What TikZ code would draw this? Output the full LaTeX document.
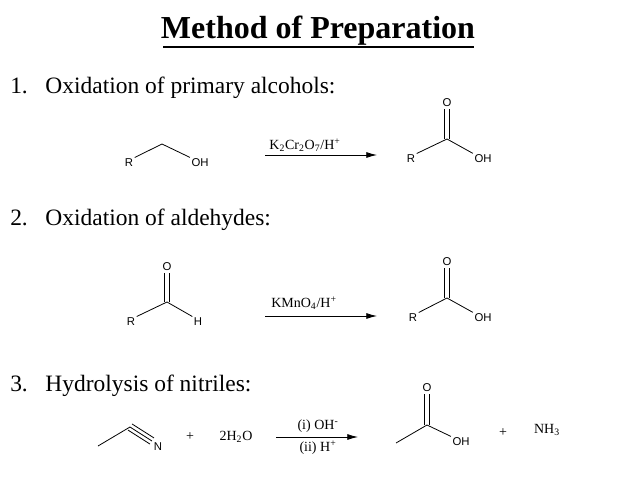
\documentclass[tikz,border=0pt]{standalone}
\usepackage{fontspec}
\setmainfont{Liberation Serif}
\newfontfamily\lab{Liberation Sans}
\usetikzlibrary{arrows.meta}
\begin{document}
\begin{tikzpicture}[x=0.75pt,y=-0.75pt,
  atom/.style={font=\lab\fontsize{8.5}{9}\selectfont,inner sep=1pt},
  rg/.style={font=\fontsize{10.5}{11}\selectfont,inner sep=1pt},
  head/.style={font=\fontsize{17.6}{20}\selectfont,anchor=west,inner sep=0pt},
  bond/.style={line width=0.6pt},
  rxn/.style={line width=0.6pt,-{Latex[length=8pt,width=4.5pt]}}]
\useasboundingbox (0,0) rectangle (638,478);
\node[font=\bfseries\fontsize{24}{26}\selectfont,inner sep=0pt] (title) at (318,31) {Method of Preparation};
\draw[line width=1pt] (163,47) -- (474,47);
\node[head] (h1) at (10,88) {1.\hspace{0.75em}Oxidation of primary alcohols:};
\node[head] (h2) at (10,220) {2.\hspace{0.75em}Oxidation of aldehydes:};
\node[head] (h3) at (10,386) {3.\hspace{0.75em}Hydrolysis of nitriles:};
% reaction 1
\node[atom] (r1) at (129,163) {R};
\coordinate (c1) at (162,144);
\node[atom] (oh1) at (200,163) {OH};
\draw[bond] (r1.north east) -- (c1) -- (oh1.north west);
\coordinate (a1s) at (265,155); \coordinate (a1e) at (377,155);
\draw[rxn] (a1s) -- (a1e);
\node[rg] (k1) at (305,145) {K\textsubscript{2}Cr\textsubscript{2}O\textsubscript{7}/H\textsuperscript{+}};
\node[atom] (r2) at (411,159) {R};
\node[atom] (o2) at (447,103) {O};
\coordinate (c2) at (447,139);
\node[atom] (oh2) at (483,159) {OH};
\draw[bond] (r2.north east) -- (c2) -- (oh2.north west);
\draw[bond] ([xshift=-1.6pt]c2) -- ([xshift=-1.6pt]o2.south);
\draw[bond] ([xshift=1.6pt]c2) -- ([xshift=1.6pt]o2.south);
% reaction 2
\node[atom] (r3) at (131,322) {R};
\node[atom] (o3) at (167,267) {O};
\coordinate (c3) at (167,302);
\node[atom] (h4) at (198,322) {H};
\draw[bond] (r3.north east) -- (c3) -- (h4.north west);
\draw[bond] ([xshift=-1.6pt]c3) -- ([xshift=-1.6pt]o3.south);
\draw[bond] ([xshift=1.6pt]c3) -- ([xshift=1.6pt]o3.south);
\coordinate (a2s) at (265,316); \coordinate (a2e) at (377,316);
\draw[rxn] (a2s) -- (a2e);
\node[rg] (k2) at (304,303) {KMnO\textsubscript{4}/H\textsuperscript{+}};
\node[atom] (r4) at (413,318) {R};
\node[atom] (o4) at (447,262) {O};
\coordinate (c4) at (447,298);
\node[atom] (oh4) at (483,318) {OH};
\draw[bond] (r4.north east) -- (c4) -- (oh4.north west);
\draw[bond] ([xshift=-1.6pt]c4) -- ([xshift=-1.6pt]o4.south);
\draw[bond] ([xshift=1.6pt]c4) -- ([xshift=1.6pt]o4.south);
% reaction 3
\coordinate (m5) at (98,446);
\coordinate (c5) at (130,427);
\node[atom] (n5) at (158,447) {N};
\coordinate (ne) at (152,441);
\draw[bond] (m5) -- (c5) -- (ne);
\draw[bond] ([shift={(-1.5pt,-2.3pt)}]c5) -- ([shift={(-1.5pt,-2.3pt)}]ne);
\draw[bond] ([shift={(1.5pt,2.3pt)}]c5) -- ([shift={(1.5pt,2.3pt)}]ne);
\node[rg] (p1) at (190,437) {+};
\node[rg] (w) at (236,437) {2H\textsubscript{2}O};
\coordinate (a3s) at (276,437); \coordinate (a3e) at (358,437);
\draw[rxn] (a3s) -- (a3e);
\node[rg] (i1) at (318,426) {(i) OH\textsuperscript{-}};
\node[rg] (i2) at (318,448) {(ii) H\textsuperscript{+}};
\coordinate (m6) at (396,443);
\node[atom] (o6) at (427,388) {O};
\coordinate (c6) at (427,425);
\node[atom] (oh6) at (461,442) {OH};
\draw[bond] (m6) -- (c6) -- (oh6.north west);
\draw[bond] ([xshift=-1.6pt]c6) -- ([xshift=-1.6pt]o6.south);
\draw[bond] ([xshift=1.6pt]c6) -- ([xshift=1.6pt]o6.south);
\node[rg] (p2) at (503,433) {+};
\node[rg] (nh) at (547,430) {NH\textsubscript{3}};
\end{tikzpicture}
\end{document}
